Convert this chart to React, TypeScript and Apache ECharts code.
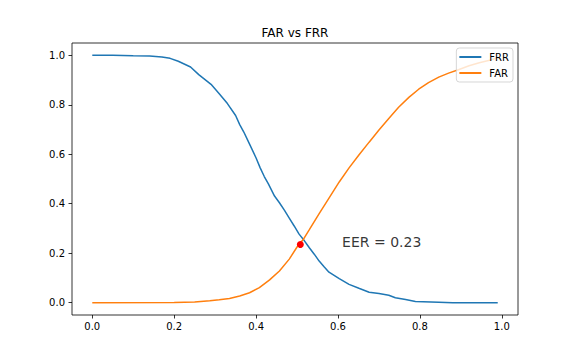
import React, { useEffect, useRef } from "react";
import * as echarts from "echarts";

const chartTitle = "FAR vs FRR";
const seriesNames = ["FRR", "FAR"];
const xTicks = [0, 0.2, 0.4, 0.6, 0.8, 1.0];
const yTicks = [0, 0.2, 0.4, 0.6, 0.8, 1.0];

const frrThresholds = [
  0.0, 0.05, 0.1, 0.14, 0.17, 0.19, 0.21, 0.24, 0.26, 0.29, 0.31, 0.33, 0.35,
  0.36, 0.37, 0.38, 0.4, 0.41, 0.42, 0.43, 0.445, 0.457, 0.469, 0.481, 0.493,
  0.505, 0.518, 0.53, 0.542, 0.554, 0.566, 0.578, 0.603, 0.627, 0.651, 0.676,
  0.7, 0.724, 0.74, 0.765, 0.789, 0.846, 0.88, 0.99,
];
const frrValues = [
  1.0, 1.0, 0.998, 0.997, 0.993, 0.988, 0.976, 0.953, 0.922, 0.883, 0.845,
  0.805, 0.757, 0.72, 0.69, 0.655, 0.585, 0.545, 0.51, 0.48, 0.431, 0.404,
  0.374, 0.342, 0.31, 0.277, 0.25, 0.222, 0.196, 0.168, 0.145, 0.123, 0.097,
  0.074, 0.058, 0.042, 0.037, 0.03, 0.02, 0.013, 0.005, 0.002, 0.0, 0.0,
];

const farThresholds = [
  0.0, 0.2, 0.25, 0.287, 0.31, 0.335, 0.36, 0.384, 0.408, 0.433, 0.457, 0.481,
  0.5, 0.515, 0.53, 0.554, 0.578, 0.603, 0.627, 0.651, 0.676, 0.7, 0.724,
  0.748, 0.773, 0.797, 0.821, 0.846, 0.87, 0.894, 0.92, 0.945, 0.97, 0.99,
];
const farValues = [
  0.0, 0.001, 0.003, 0.008, 0.012, 0.017, 0.027, 0.04, 0.061, 0.092, 0.128,
  0.176, 0.225, 0.255, 0.295, 0.36, 0.423, 0.488, 0.545, 0.597, 0.649, 0.698,
  0.745, 0.79, 0.83, 0.863, 0.89, 0.912, 0.928, 0.942, 0.958, 0.97, 0.98, 0.99,
];

const eerPoint = [0.508, 0.235];
const eerText = "EER = 0.23";
const eerTextPos = [0.61, 0.23];

const FONT = "DejaVu Sans";

export default function App() {
  const ref = useRef<HTMLDivElement>(null);
  useEffect(() => {
    if (!ref.current) return;
    const chart = echarts.init(ref.current, null, { renderer: "svg" });
    const frrData = frrThresholds.map((x, i) => [x, frrValues[i]]);
    const farData = farThresholds.map((x, i) => [x, farValues[i]]);
    const axisCommon = {
      type: "value" as const,
      splitLine: { show: false },
      axisLine: { show: false, onZero: false },
      axisTick: {
        show: true,
        length: 3.5,
        lineStyle: { color: "#000", width: 0.8 },
      },
      axisLabel: {
        color: "#000",
        fontSize: 10,
        fontFamily: FONT,
        formatter: (v: number) => v.toFixed(1),
      },
    };
    chart.setOption({
      animation: false,
      backgroundColor: "#fff",
      graphic: [
        {
          type: "text",
          x: 295,
          y: 33,
          style: {
            text: chartTitle,
            fontSize: 12,
            fontFamily: FONT,
            fill: "#000",
            textAlign: "center",
            textVerticalAlign: "middle",
          },
        },
      ],
      grid: {
        left: 72,
        right: 58,
        top: 43,
        bottom: 45,
        show: true,
        borderColor: "#000",
        borderWidth: 0.8,
        containLabel: false,
        outerBoundsMode: "none",
      },
      legend: {
        data: seriesNames,
        orient: "vertical",
        right: 63,
        top: 48,
        padding: [3, 4, 3, 3],
        itemGap: 4,
        itemWidth: 22,
        itemHeight: 2,
        icon: "rect",
        backgroundColor: "rgba(255,255,255,0.8)",
        borderColor: "rgba(204,204,204,0.8)",
        borderWidth: 1,
        borderRadius: 3,
        textStyle: {
          color: "#000",
          fontSize: 10,
          fontFamily: FONT,
          lineHeight: 12,
          padding: [0, 0, 0, 3],
        },
      },
      xAxis: {
        ...axisCommon,
        min: -0.0495,
        max: 1.0395,
        axisTick: { ...axisCommon.axisTick, customValues: xTicks },
        axisLabel: { ...axisCommon.axisLabel, margin: 6, customValues: xTicks },
      },
      yAxis: {
        ...axisCommon,
        min: -0.05,
        max: 1.05,
        axisTick: { ...axisCommon.axisTick, customValues: yTicks },
        axisLabel: { ...axisCommon.axisLabel, margin: 7, customValues: yTicks },
      },
      series: [
        {
          name: seriesNames[0],
          type: "line",
          data: frrData,
          showSymbol: false,
          symbol: "none",
          color: "#1f77b4",
          lineStyle: { width: 1.5, color: "#1f77b4" },
          z: 2,
        },
        {
          name: seriesNames[1],
          type: "line",
          data: farData,
          showSymbol: false,
          symbol: "none",
          color: "#ff7f0e",
          lineStyle: { width: 1.5, color: "#ff7f0e" },
          z: 2,
        },
        {
          name: "EER",
          type: "scatter",
          data: [eerPoint],
          symbolSize: 7,
          itemStyle: { color: "#ff0000", opacity: 1 },
          z: 3,
        },
        {
          name: "EERText",
          type: "scatter",
          data: [eerTextPos],
          symbolSize: 0,
          silent: true,
          itemStyle: { color: "transparent" },
          label: {
            show: true,
            formatter: eerText,
            position: [0, 0],
            align: "left",
            verticalAlign: "bottom",
            offset: [0, 3],
            fontSize: 14,
            fontFamily: FONT,
            color: "#000",
          },
          z: 4,
        },
      ],
    });
    return () => chart.dispose();
  }, []);
  return (
    <div
      ref={ref}
      style={{ position: "fixed", left: 0, top: 0, width: 576, height: 360 }}
    />
  );
}
